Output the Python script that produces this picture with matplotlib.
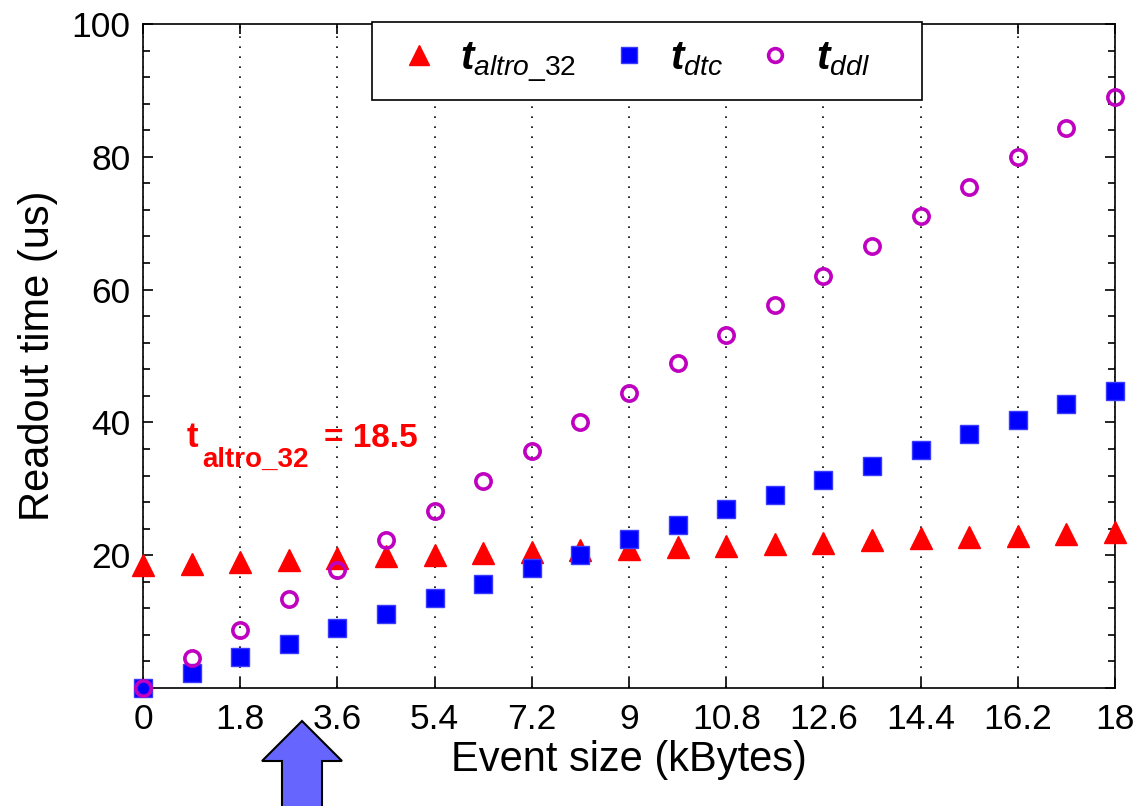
import matplotlib
matplotlib.use("Agg")
import matplotlib.pyplot as plt
from matplotlib.ticker import MultipleLocator
from matplotlib.patches import FancyArrow, Rectangle
from matplotlib.transforms import IdentityTransform

plt.rcParams['font.family'] = ['Liberation Sans', 'DejaVu Sans']
plt.rcParams['mathtext.fontset'] = 'custom'
plt.rcParams['mathtext.rm'] = 'Liberation Sans'
plt.rcParams['mathtext.it'] = 'Liberation Sans:italic'
plt.rcParams['mathtext.bf'] = 'Liberation Sans:bold'
plt.rcParams['mathtext.bfit'] = 'Liberation Sans:bold:italic'

# event size in kBytes
event_size = [0, 0.9, 1.8, 2.7, 3.6, 4.5, 5.4, 6.3, 7.2, 8.1, 9,
              9.9, 10.8, 11.7, 12.6, 13.5, 14.4, 15.3, 16.2, 17.1, 18]
t_altro_32 = [18.5, 18.7, 19.0, 19.3, 19.6, 19.9, 20.1, 20.3, 20.5, 20.8, 21.0,
              21.3, 21.4, 21.7, 21.9, 22.3, 22.6, 22.7, 22.9, 23.2, 23.5]
t_dtc = [0.0, 2.2, 4.6, 6.7, 9.1, 11.1, 13.5, 15.7, 18.0, 20.1, 22.5,
         24.6, 27.0, 29.1, 31.4, 33.5, 35.9, 38.3, 40.4, 42.8, 44.8]
t_ddl = [0.0, 4.5, 8.8, 13.4, 17.8, 22.3, 26.7, 31.2, 35.7, 40.1, 44.5,
         49.0, 53.2, 57.7, 62.1, 66.6, 71.1, 75.5, 80.0, 84.4, 89.0]

xtick_vals = [0, 1.8, 3.6, 5.4, 7.2, 9, 10.8, 12.6, 14.4, 16.2, 18]
xtick_labels = ['0', '1.8', '3.6', '5.4', '7.2', '9', '10.8', '12.6', '14.4', '16.2', '18']
ytick_vals = [0, 20, 40, 60, 80, 100]
ytick_labels = ['', '20', '40', '60', '80', '100']

altro_const = 18.5

fig = plt.figure(figsize=(11.37, 8.06), dpi=100)
ax = fig.add_axes([0.1258, 0.1464, 0.8549, 0.8238])

ax.plot(event_size, t_altro_32, '^', color='#ff0000', ms=16, mec='#ff0000',
        clip_on=False, zorder=3, label=r'$\mathbfit{t}_{\mathit{altro\_32}}$')
ax.plot(event_size, t_dtc, 's', color='#0000ff', ms=12.5, mec='#3a3aff', mew=1,
        clip_on=False, zorder=4, label=r'$\mathbfit{t}_{\mathit{dtc}}$')
ax.plot(event_size, t_ddl, 'o', mfc='none', mec='#c000c0', ms=11, mew=2.6,
        clip_on=False, zorder=5, label=r'$\mathbfit{t}_{\mathit{ddl}}$')

ax.set_xlim(0, 18)
ax.set_ylim(0, 100)
ax.set_xticks(xtick_vals)
ax.set_xticklabels(xtick_labels)
ax.set_yticks(ytick_vals)
ax.set_yticklabels(ytick_labels)
ax.yaxis.set_minor_locator(MultipleLocator(4))
ax.tick_params(which='both', direction='in', top=True, right=True, width=1.2)
ax.tick_params(which='major', length=7, labelsize=25.5)
ax.tick_params(which='minor', length=5)
ax.tick_params(axis='x', pad=11)
ax.tick_params(axis='y', pad=9)
for s in ax.spines.values():
    s.set_linewidth(1.2)

ax.xaxis.grid(True, color='k', linestyle=(0, (1, 5)), linewidth=1.2)

ax.set_xlabel('Event size (kBytes)', fontsize=30, labelpad=3)
ax.set_ylabel('Readout time (us)', fontsize=30, labelpad=10)

# legend box is wider than its entries, so draw the frame separately
box = Rectangle((0.2356, 0.8855), 0.5658, 0.1175, transform=ax.transAxes,
                fc='white', ec='k', lw=1.2, clip_on=False, zorder=9)
ax.add_patch(box)
leg = ax.legend(loc='upper left', bbox_to_anchor=(0.2356, 1.003),
                ncol=3, fontsize=29, numpoints=1, markerscale=0.9,
                frameon=False, borderaxespad=0,
                handlelength=1.5, handletextpad=0.27, columnspacing=0.55,
                borderpad=0.42)
leg.set_zorder(10)

# label for the constant altro readout time
ax.annotate('t', xy=(0.8, 36.3), color='#ff0000', fontsize=25,
            fontweight='bold', va='baseline', ha='left')
ax.annotate('altro_32', xy=(0.8, 36.3), xytext=(11.5, -14.4),
            textcoords='offset points', color='#ff0000', fontsize=20,
            fontweight='bold', va='baseline', ha='left')
ax.annotate(f'= {altro_const}', xy=(0.8, 36.3), xytext=(99, 0),
            textcoords='offset points', color='#ff0000', fontsize=24,
            fontweight='bold', va='baseline', ha='left')

arrow = FancyArrow(302, -5, 0, 90, width=40, head_width=80, head_length=40,
                   length_includes_head=True, fc='#6666ff', ec='k', lw=1.5,
                   transform=IdentityTransform(), clip_on=False)
fig.add_artist(arrow)

fig.savefig('out.png', dpi=100, facecolor='white')
